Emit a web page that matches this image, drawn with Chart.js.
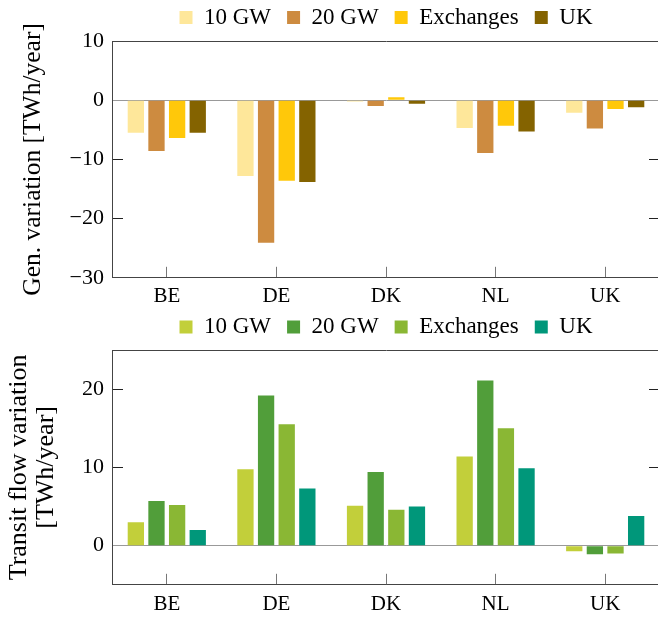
<!DOCTYPE html>
<html><head><meta charset="utf-8">
<script src="https://cdn.jsdelivr.net/npm/chart.js@4.4.1/dist/chart.umd.min.js"></script>
<style>
html,body{margin:0;padding:0;background:#fff;overflow:hidden;width:658px;height:617px;position:relative;}
#c1{position:absolute;left:0;top:-10px;}
#c2{position:absolute;left:0;top:299px;}
</style></head><body>
<canvas id="c1" width="660" height="320"></canvas>
<canvas id="c2" width="660" height="318"></canvas>
<script>
const countries = ['BE', 'DE', 'DK', 'NL', 'UK'];
const seriesNames = ['10 GW', '20 GW', 'Exchanges', 'UK'];

// Generation variation [TWh/year]
const gen10GW     = [-5.5, -12.8, -0.2, -4.7, -2.1];
const gen20GW     = [-8.6, -24.1, -1.0, -8.9, -4.8];
const genExchange = [-6.4, -13.6,  0.5, -4.3, -1.5];
const genUK       = [-5.5, -13.8, -0.6, -5.3, -1.2];

// Transit flow variation [TWh/year]
const transit10GW     = [3.0,  9.75, 5.1, 11.4, -0.7];
const transit20GW     = [5.7, 19.2,  9.4, 21.1, -1.1];
const transitExchange = [5.2, 15.5,  4.6, 15.0, -1.0];
const transitUK       = [2.0,  7.3,  5.0,  9.9,  3.8];

const genTicks = [10, 0, -10, -20, -30];
const transitTicks = [20, 10, 0];

const genColors = ['#FEE79A', '#CD8B40', '#FFC80A', '#846300'];
const transitColors = ['#C2CF3A', '#519E3A', '#8AB734', '#00977A'];

const FONT = 'Liberation Serif';
const fmt = v => (v < 0 ? '\u2212' + Math.abs(v) : String(v));

function makeChart(id, seriesValues, colors, yMin, yMax, yTicks, title, cfg) {
  const datasets = seriesValues.map((vals, i) => ({
    label: seriesNames[i],
    data: vals,
    backgroundColor: colors[i],
    borderWidth: 0,
    categoryPercentage: 0.753,
    barPercentage: 0.79,
    xAxisID: 'x',
    yAxisID: 'y'
  }));
  const setTicks = s => { s.ticks = yTicks.map(v => ({ value: v })); };
  return new Chart(document.getElementById(id), {
    type: 'bar',
    data: { labels: countries, datasets },
    options: {
      responsive: false,
      animation: false,
      layout: { padding: { top: cfg.padTop, left: 0, right: 0, bottom: 0 } },
      plugins: {
        legend: {
          position: 'top', fullSize: false, align: 'center',
          labels: { font: { family: FONT, size: 23 }, color: '#000', boxWidth: 13, boxHeight: 13, padding: 16 }
        },
        tooltip: { enabled: false }
      },
      scales: {
        x: {
          type: 'category', position: 'bottom', offset: true,
          grid: { offset: false, drawOnChartArea: false, tickLength: -11, tickColor: '#777', lineWidth: 1 },
          border: { color: '#444', width: 1 },
          ticks: { font: { family: FONT, size: 21 }, color: '#000', padding: cfg.xPad, maxRotation: 0, autoSkip: false },
          afterFit: s => { s.height = cfg.xH; }
        },
        xTop: {
          type: 'category', position: 'top', offset: true,
          grid: { display: false },
          border: { display: true, color: '#444', width: 1 },
          ticks: { display: false },
          afterFit: s => { s.height = cfg.topH; }
        },
        y: {
          type: 'linear', position: 'left', min: yMin, max: yMax, z: 1,
          afterBuildTicks: setTicks,
          ticks: { font: { family: FONT, size: 22 }, color: '#000', padding: 19, callback: v => fmt(v) },
          grid: {
            drawOnChartArea: true, tickLength: -11, lineWidth: 1,
            color: c => (c.tick && c.tick.value === 0 ? '#999' : 'rgba(0,0,0,0)'),
            tickColor: c => (c.tick && c.tick.value === 0 ? '#999' : '#222')
          },
          border: { color: '#444', width: 1 },
          title: { display: true, text: title, color: '#000', font: { family: FONT, size: cfg.titleSize, lineHeight: cfg.titleLH }, padding: { top: cfg.titlePad, bottom: 0 } },
          afterFit: s => { s.width = 112; }
        },
        yR: {
          type: 'linear', position: 'right', min: yMin, max: yMax,
          afterBuildTicks: setTicks,
          ticks: { display: false },
          grid: {
            drawOnChartArea: false, tickLength: -11, lineWidth: 1,
            tickColor: c => (c.tick && c.tick.value === 0 ? '#999' : '#222')
          },
          border: { display: false },
          afterFit: s => { s.width = 0; }
        }
      }
    }
  });
}

makeChart('c1', [gen10GW, gen20GW, genExchange, genUK], genColors, -30, 10, genTicks,
  'Gen. variation [TWh/year]',
  { padTop: 0, topH: 2, xH: 31, xPad: 17.5, titlePad: 20.6, titleSize: 25.5, titleLH: 1 });
makeChart('c2', [transit10GW, transit20GW, transitExchange, transitUK], transitColors, -5, 25, transitTicks,
  ['Transit flow variation', '[TWh/year]'],
  { padTop: 0.5, topH: 1.5, xH: 29.3, xPad: 18, titlePad: 6, titleSize: 26, titleLH: 1.04 });
</script>
</body></html>
